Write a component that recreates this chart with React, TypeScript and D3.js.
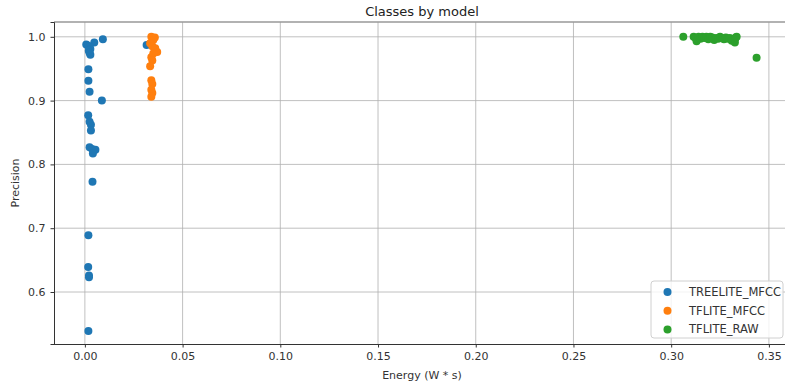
import React, { useEffect, useRef } from "react";
import * as d3 from "d3";

type Pt = [number, number];

// energy (W*s), precision
const treeliteMfcc: Pt[] = [
  [0.0092, 0.996], [0.0048, 0.991], [0.0007, 0.988], [0.0017, 0.986], [0.0024, 0.984],
  [0.0028, 0.981], [0.002, 0.978], [0.0024, 0.975], [0.0028, 0.972], [0.0018, 0.949],
  [0.0018, 0.931], [0.0024, 0.914], [0.0087, 0.9], [0.0017, 0.877], [0.0024, 0.867],
  [0.0031, 0.862], [0.0031, 0.853], [0.0024, 0.827], [0.0037, 0.824], [0.0054, 0.823],
  [0.0041, 0.817], [0.0039, 0.773], [0.0018, 0.689], [0.0017, 0.639], [0.0021, 0.626],
  [0.0021, 0.623], [0.0018, 0.539], [0.0316, 0.987],
];

const tfliteMfcc: Pt[] = [
  [0.034, 1.0], [0.0358, 0.999], [0.035, 0.995], [0.0334, 0.99], [0.0345, 0.985],
  [0.036, 0.982], [0.037, 0.976], [0.035, 0.974], [0.034, 0.968], [0.0345, 0.963],
  [0.0334, 0.954], [0.034, 0.932], [0.0345, 0.926], [0.034, 0.917], [0.0345, 0.912],
  [0.034, 0.906],
];

const tfliteRaw: Pt[] = [
  [0.3062, 1.0], [0.3115, 1.0], [0.3125, 0.998], [0.313, 0.993], [0.314, 1.0],
  [0.315, 0.997], [0.316, 1.0], [0.317, 0.998], [0.318, 1.0], [0.319, 0.996],
  [0.32, 1.0], [0.321, 0.999], [0.322, 0.995], [0.323, 0.998], [0.324, 0.997],
  [0.325, 1.0], [0.326, 0.998], [0.327, 0.996], [0.328, 0.999], [0.329, 0.997],
  [0.33, 0.998], [0.331, 0.994], [0.3326, 0.991], [0.3326, 0.996], [0.333, 0.999],
  [0.3335, 1.0], [0.3437, 0.967],
];

const seriesNames = ["TREELITE_MFCC", "TFLITE_MFCC", "TFLITE_RAW"];
const seriesColors = ["#1f77b4", "#ff7f0e", "#2ca02c"];
const xTicks = [0, 0.05, 0.1, 0.15, 0.2, 0.25, 0.3, 0.35];
const yTicks = [0.6, 0.7, 0.8, 0.9, 1.0];

const App = () => {
  const svgRef = useRef<SVGSVGElement>(null);

  useEffect(() => {
    const svg = d3.select(svgRef.current);
    svg.selectAll("*").remove();

    const width = 785;
    const height = 389;
    const margin = { top: 22, right: -5, bottom: 45, left: 54 };
    const font = "DejaVu Sans, sans-serif";

    const x = d3.scaleLinear().domain([-0.0158, 0.3608]).range([margin.left, width - margin.right]);
    const y = d3.scaleLinear().domain([0.5185, 1.0232]).range([height - margin.bottom, margin.top]);

    const series = [treeliteMfcc, tfliteMfcc, tfliteRaw];

    // grid
    const grid = svg.append("g").attr("stroke", "#b0b0b0").attr("stroke-width", 0.8);
    xTicks.forEach(t => {
      grid.append("line").attr("x1", x(t)).attr("x2", x(t))
        .attr("y1", margin.top).attr("y2", height - margin.bottom);
    });
    yTicks.forEach(t => {
      grid.append("line").attr("x1", margin.left).attr("x2", width)
        .attr("y1", y(t)).attr("y2", y(t));
    });

    // points
    series.forEach((data, i) => {
      svg.append("g").selectAll("circle")
        .data(data)
        .enter()
        .append("circle")
        .attr("cx", d => x(d[0]))
        .attr("cy", d => y(d[1]))
        .attr("r", 4)
        .attr("fill", seriesColors[i]);
    });

    // spines
    svg.append("line").attr("x1", margin.left).attr("x2", width)
      .attr("y1", margin.top).attr("y2", margin.top)
      .attr("stroke", "#999").attr("stroke-width", 1.5);

    const xAxis = svg.append("g")
      .attr("transform", `translate(0,${height - margin.bottom})`)
      .call(d3.axisBottom(x).tickValues(xTicks).tickFormat(d => d3.format(".2f")(d as number)).tickSize(3.5).tickPadding(5));
    const yAxis = svg.append("g")
      .attr("transform", `translate(${margin.left},0)`)
      .call(d3.axisLeft(y).tickValues(yTicks).tickFormat(d => d3.format(".1f")(d as number)).tickSize(3.5).tickPadding(5));
    [xAxis, yAxis].forEach(a => {
      a.selectAll("text").attr("font-family", font).attr("font-size", 11).attr("fill", "#333");
      a.selectAll("line").attr("stroke", "#333");
      a.select(".domain").attr("stroke", "#333");
    });
    xAxis.select(".domain").attr("d", `M${margin.left},0.5H${width}`);

    svg.append("text")
      .attr("x", (margin.left + width - margin.right) / 2)
      .attr("y", 16)
      .attr("text-anchor", "middle")
      .attr("font-family", font)
      .attr("font-size", 13)
      .attr("fill", "#222")
      .text("Classes by model");

    svg.append("text")
      .attr("x", (margin.left + width - margin.right) / 2)
      .attr("y", 379)
      .attr("text-anchor", "middle")
      .attr("font-family", font)
      .attr("font-size", 11)
      .attr("fill", "#333")
      .text("Energy (W * s)");

    svg.append("text")
      .attr("transform", `translate(19,${(margin.top + height - margin.bottom) / 2}) rotate(-90)`)
      .attr("text-anchor", "middle")
      .attr("font-family", font)
      .attr("font-size", 11)
      .attr("fill", "#333")
      .text("Precision");

    // legend
    const legend = svg.append("g").attr("transform", "translate(651,281)");
    legend.append("rect")
      .attr("width", 132).attr("height", 57).attr("rx", 3)
      .attr("fill", "white").attr("fill-opacity", 0.8)
      .attr("stroke", "#d0d0d0");
    seriesNames.forEach((name, i) => {
      const row = legend.append("g").attr("transform", `translate(0,${11 + i * 18.7})`);
      row.append("circle").attr("cx", 16.5).attr("cy", 0).attr("r", 4).attr("fill", seriesColors[i]);
      row.append("text")
        .attr("x", 38).attr("y", 0).attr("dy", "0.35em")
        .attr("font-family", font).attr("font-size", 11.5).attr("fill", "#333")
        .text(name);
    });
  }, []);

  return <svg ref={svgRef} width={785} height={389} style={{ position: "absolute", left: 0, top: 0 }}></svg>;
};

export default App;
